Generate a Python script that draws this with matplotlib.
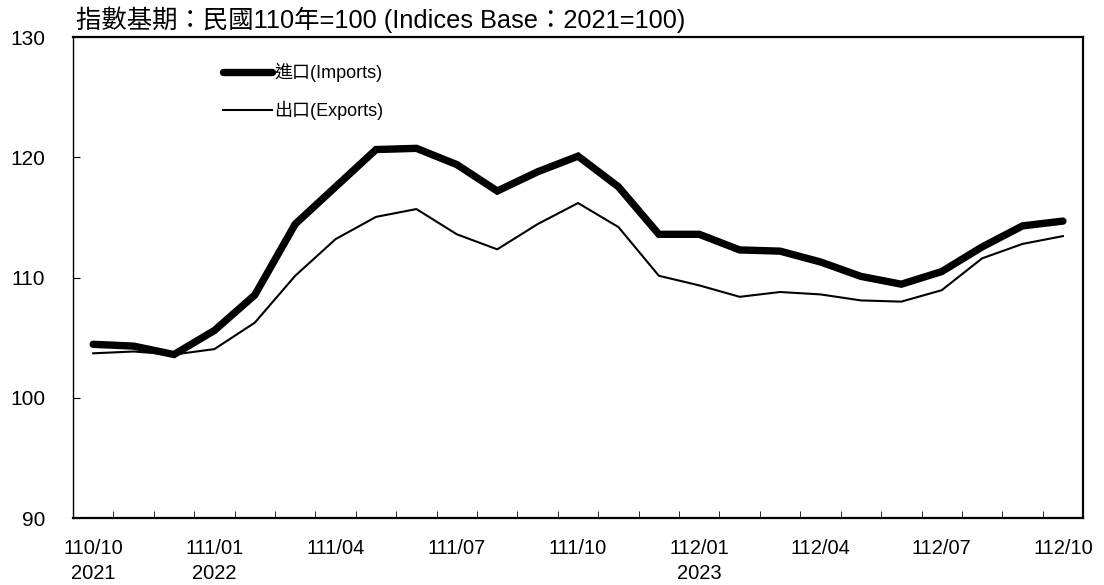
import matplotlib
matplotlib.use("Agg")
import matplotlib.pyplot as plt

plt.rcParams['font.family'] = ['Liberation Sans', 'Noto Sans CJK TC', 'DejaVu Sans']

# months 110/10 (2021/10) .. 112/10 (2023/10)
months = ["110/10", "110/11", "110/12", "111/01", "111/02", "111/03", "111/04",
          "111/05", "111/06", "111/07", "111/08", "111/09", "111/10", "111/11",
          "111/12", "112/01", "112/02", "112/03", "112/04", "112/05", "112/06",
          "112/07", "112/08", "112/09", "112/10"]
imports = [104.45, 104.3, 103.6, 105.6, 108.55, 114.45, 117.55, 120.65, 120.75,
           119.4, 117.2, 118.8, 120.1, 117.55, 113.6, 113.6, 112.3, 112.2, 111.3,
           110.1, 109.45, 110.5, 112.55, 114.3, 114.7]
exports = [103.7, 103.85, 103.6, 104.05, 106.25, 110.15, 113.2, 115.05, 115.7,
           113.6, 112.35, 114.45, 116.2, 114.2, 110.15, 109.35, 108.4, 108.8, 108.6,
           108.1, 108.0, 108.95, 111.6, 112.8, 113.45]
year_under = {"110/10": "2021", "111/01": "2022", "112/01": "2023"}
title = "指數基期：民國110年=100 (Indices Base：2021=100)"

fig = plt.figure(figsize=(11.04, 5.85), dpi=100)
ax = fig.add_axes([0.0661, 0.1145, 0.915, 0.822])

x = list(range(len(months)))
l1, = ax.plot(x, imports, color="black", lw=5.3, solid_capstyle="round",
              solid_joinstyle="miter", label="進口(Imports)")
l2, = ax.plot(x, exports, color="black", lw=1.5, label="出口(Exports)")

ax.set_xlim(-0.5, len(months) - 0.5)
ax.set_ylim(90, 130)
ax.set_yticks([90, 100, 110, 120, 130])
ax.tick_params(axis="y", direction="in", length=5, labelsize=15, pad=20)

# labels every 3 months, tick marks at category boundaries
lab_pos = x[::3]
labels = []
for i in lab_pos:
    m = months[i]
    labels.append(m + "\n" + year_under[m] if m in year_under else m)
ax.set_xticks(lab_pos)
ax.set_xticklabels(labels, fontsize=14.5, linespacing=1.4)
ax.set_xticks([i + 0.5 for i in x[:-1]], minor=True)
ax.tick_params(axis="x", which="major", length=0, pad=15)
ax.tick_params(axis="x", which="minor", direction="in", length=5)
for lab in ax.get_xticklabels():
    lab.set_verticalalignment("top")

for s in ax.spines.values():
    s.set_linewidth(1.6)
ax.spines["left"].set_linewidth(1.0)

ax.legend(handles=[l1, l2], loc="upper left", bbox_to_anchor=(0.132, 0.98),
          frameon=False, fontsize=13, handlelength=2.75, handletextpad=0.1,
          labelspacing=1.05)

fig.text(0.069, 0.967, title, fontsize=18.3, va="center", ha="left")

fig.savefig("out.png", dpi=100)
